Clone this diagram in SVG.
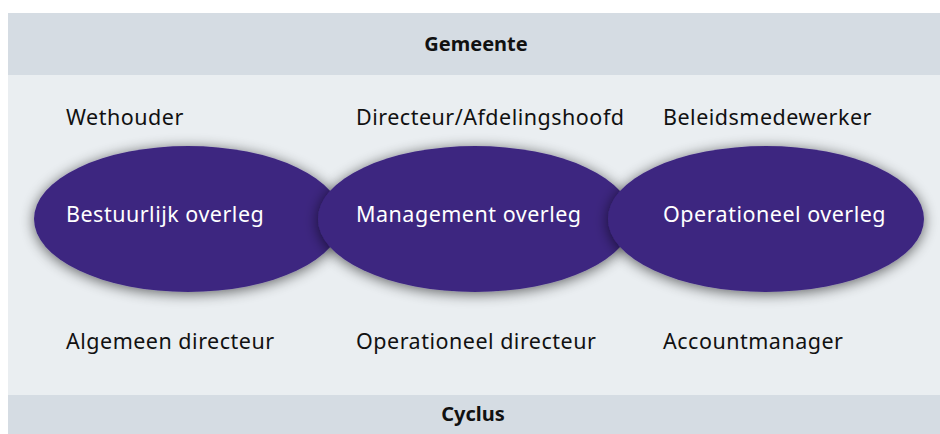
<svg xmlns="http://www.w3.org/2000/svg" width="940" height="434" viewBox="0 0 940 434">
<style>
.band{fill:#D5DCE3}
.bg{fill:#EAEEF1}
.hdr{font-family:"Noto Sans","Open Sans",sans-serif;font-size:20px;font-weight:bold;fill:#111;text-anchor:middle}
.lbl{font-family:"Noto Sans","Open Sans",sans-serif;font-size:21.5px;letter-spacing:0.5px;fill:#111}
.ell{fill:#3E2780;filter:url(#sh)}
.in{font-family:"Noto Sans","Open Sans",sans-serif;font-size:21.5px;letter-spacing:0.5px;fill:#fff}
</style>
<defs>
<filter id="sh" x="-20%" y="-30%" width="140%" height="160%">
<feGaussianBlur in="SourceAlpha" stdDeviation="7"/>
<feOffset dx="0" dy="2" result="b"/>
<feComponentTransfer><feFuncA type="linear" slope="0.6"/></feComponentTransfer>
<feMerge><feMergeNode/><feMergeNode in="SourceGraphic"/></feMerge>
</filter>
</defs>
<rect x="0" y="0" width="940" height="434" fill="#fff"/>
<rect class="bg" x="8" y="75" width="932" height="320"/>
<g id="gemeente"><rect class="band" x="8" y="13" width="932" height="62"/><text class="hdr" x="476" y="51">Gemeente</text></g>
<g id="cyclus"><rect class="band" x="8" y="395" width="932" height="39"/><text class="hdr" x="473" y="421">Cyclus</text></g>
<g id="roles">
<text class="lbl" x="66" y="125">Wethouder</text>
<text class="lbl" x="356" y="125">Directeur/Afdelingshoofd</text>
<text class="lbl" x="663" y="125">Beleidsmedewerker</text>
<text class="lbl" x="66" y="349">Algemeen directeur</text>
<text class="lbl" x="356" y="349">Operationeel directeur</text>
<text class="lbl" x="663" y="349">Accountmanager</text>
</g>
<g id="bestuurlijk"><ellipse class="ell" cx="188" cy="219" rx="154" ry="73"/><text class="in" x="66" y="222">Bestuurlijk overleg</text></g>
<g id="management"><ellipse class="ell" cx="475" cy="219" rx="157" ry="73"/><text class="in" x="356" y="222">Management overleg</text></g>
<g id="operationeel"><ellipse class="ell" cx="766" cy="219" rx="158" ry="73"/><text class="in" x="663" y="222">Operationeel overleg</text></g>
<g id="connectors"></g>
</svg>
